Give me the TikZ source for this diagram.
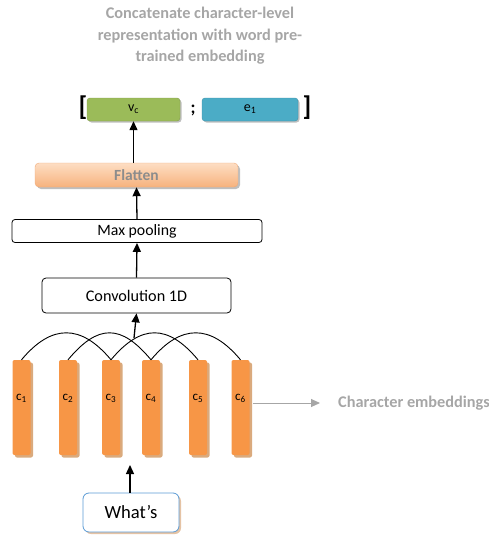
\documentclass[tikz,border=0pt]{standalone}
\usepackage{fontspec}
\setmainfont{Carlito}
\usetikzlibrary{arrows.meta,shadows}
\definecolor{txtgray}{RGB}{166,166,166}
\definecolor{barorange}{RGB}{247,150,70}
\definecolor{bartan}{RGB}{218,170,125}
\definecolor{vgreen}{RGB}{155,187,89}
\definecolor{eblue}{RGB}{75,172,198}
\definecolor{wblue}{RGB}{91,155,213}
\tikzset{
  blk/.style={draw=black,line width=0.8pt,rounded corners=3pt,fill=white,inner sep=0pt},
  bar/.style={fill=barorange,rounded corners=2pt,minimum width=18pt,minimum height=95pt,inner sep=0pt,
     drop shadow={shadow xshift=2.5pt,shadow yshift=-2.5pt,fill=bartan,opacity=1}},
  clab/.style={font=\fontsize{13}{14}\selectfont,inner sep=0pt},
  vec/.style={rounded corners=3pt,minimum height=23pt,inner sep=0pt,font=\fontsize{14}{15}\selectfont,
     drop shadow={shadow xshift=1.5pt,shadow yshift=-1.5pt,fill=black!25,opacity=1}},
  uparr/.style={draw=black,line width=1.3pt,-{Triangle[length=9pt,width=8pt]}},
  arc/.style={draw=black,line width=0.9pt},
  graytxt/.style={text=txtgray,font=\bfseries\fontsize{16.3}{21.5}\selectfont}
}
\begin{document}
\begin{tikzpicture}[x=1pt,y=-1pt]
\useasboundingbox (0,0) rectangle (489,538);
% title
\node[graytxt,align=center] (title) at (200,36) {Concatenate character-level\\representation with word pre-\\trained embedding};
% vectors
\node[vec,fill=vgreen,draw=vgreen!85!black,minimum width=93pt] (vc) at (133.5,109.5) {v\textsubscript{c}};
\node[vec,fill=eblue,draw=eblue!85!black,minimum width=96pt] (e1) at (250,109.5) {e\textsubscript{1}};
\node[font=\bfseries\fontsize{27}{27}\selectfont,inner sep=0pt] (lb) at (83,108) {[};
\node[font=\bfseries\fontsize{27}{27}\selectfont,inner sep=0pt] (rb) at (307,108) {]};
\node[font=\bfseries\fontsize{18}{18}\selectfont,inner sep=0pt] (semi) at (193,110) {;};
% flatten
\node[rounded corners=4pt,minimum width=203pt,minimum height=24pt,inner sep=0pt,
  top color={rgb,255:red,253;green,222;blue,196},bottom color={rgb,255:red,247;green,178;blue,125},
  draw={rgb,255:red,240;green,170;blue,120},line width=0.4pt,
  drop shadow={shadow xshift=2pt,shadow yshift=-2pt,fill=black!25,opacity=1},
  text=gray!90,font=\bfseries\fontsize{15.5}{16}\selectfont] (flat) at (136.5,175) {Flatten};
% max pooling
\node[blk,minimum width=250pt,minimum height=23pt,font=\fontsize{15.8}{16}\selectfont] (mp) at (137,231) {Max pooling};
% convolution
\node[blk,rounded corners=4pt,minimum width=189pt,minimum height=35pt,font=\fontsize{16.2}{17}\selectfont] (conv) at (136.5,295.5) {Convolution 1D};
% bars
\foreach \i/\x in {1/21.5,2/68,3/111,4/151,5/198,6/240.5}{
  \node[bar] (c\i) at (\x,407.5) {};
  \node[clab] (l\i) at (\x,398) {c\textsubscript{\i}};
}
% arcs
\draw[arc] (c1.north) .. controls ([xshift=30,yshift=36]c1.north) and ([xshift=-30,yshift=36]c3.north) .. (c3.north);
\draw[arc] (c2.north) .. controls ([xshift=30,yshift=36]c2.north) and ([xshift=-30,yshift=36]c4.north) .. (c4.north);
\draw[arc] (c3.north) .. controls ([xshift=30,yshift=36]c3.north) and ([xshift=-30,yshift=36]c5.north) .. (c5.north);
\draw[arc] (c4.north) .. controls ([xshift=30,yshift=36]c4.north) and ([xshift=-30,yshift=36]c6.north) .. (c6.north);
% what's
\node[draw=wblue,line width=0.8pt,rounded corners=6pt,fill=white,minimum width=96pt,minimum height=39pt,inner sep=0pt,
  drop shadow={shadow xshift=2pt,shadow yshift=-2pt,fill=bartan!70,opacity=1},
  font=\fontsize{18.6}{19}\selectfont] (w) at (131,512.5) {What’s};
% arrows
\coordinate (barstop) at (134,338);
\coordinate (barsbot) at (130,465);
\draw[uparr] (flat.north -| vc.south) -- (vc.south);
\draw[uparr] (mp.north) -- (flat.south);
\draw[uparr] (conv.north) -- (mp.south);
\draw[uparr] (barstop) -- (conv.south);
\draw[uparr] (w.north -| barsbot) -- (barsbot);
% character embeddings
\node[graytxt,anchor=west,inner sep=0pt] (emb) at (338,403) {Character embeddings};
\coordinate (ga) at (253,403);
\draw[draw=txtgray,line width=1pt,-{Triangle[length=9pt,width=8pt]}] (ga) -- ([xshift=-18]emb.west);
\end{tikzpicture}
\end{document}
